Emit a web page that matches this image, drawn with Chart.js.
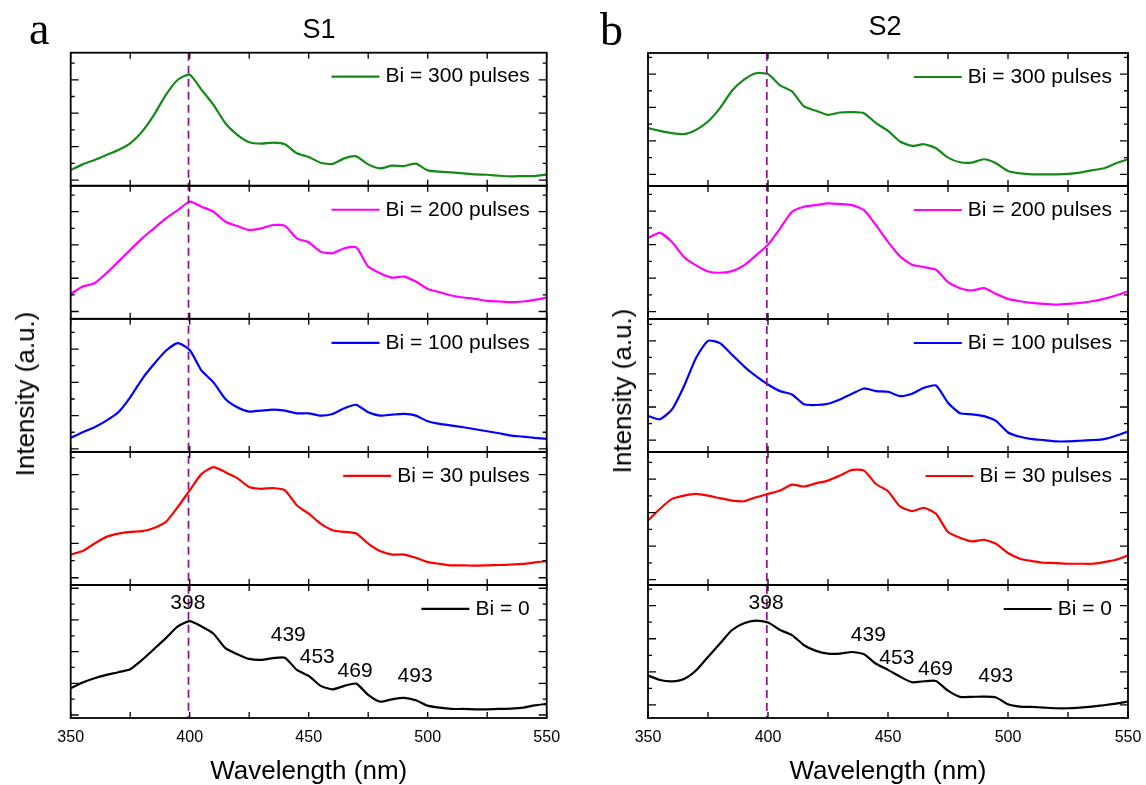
<!DOCTYPE html>
<html>
<head>
<meta charset="utf-8">
<script src="https://cdn.jsdelivr.net/npm/chart.js@4.4.1/dist/chart.umd.min.js"></script>
<style>
body{margin:0;background:#fff}
#fig{position:relative;width:1146px;height:785px;overflow:hidden;font-family:"Liberation Sans",Arial,sans-serif;color:#000;background:#fff}
canvas{position:absolute;top:0}
.t{position:absolute;white-space:nowrap;line-height:1;transform:translate(-50%,-50%)}
.letter{position:absolute;font-family:"Liberation Serif","Times New Roman",serif;font-size:46px;line-height:1}
.ylab{position:absolute;white-space:nowrap;line-height:1;font-size:26px;transform:translate(-50%,-50%) rotate(-90deg)}
</style>
</head>
<body>
<div id="fig">
  <canvas id="chartS1" width="573" height="785" style="left:0"></canvas>
  <canvas id="chartS2" width="573" height="785" style="left:573px"></canvas>
  <div class="letter" style="left:29px;top:6px">a</div>
  <div class="letter" style="left:600px;top:7px">b</div>
  <div class="t" style="left:319px;top:29px;font-size:27px">S1</div>
  <div class="t" style="left:885px;top:26px;font-size:27px">S2</div>
  <div class="ylab" style="left:25px;top:394px">Intensity (a.u.)</div>
  <div class="ylab" style="left:622px;top:391px">Intensity (a.u.)</div>
</div>
<script>
// wavelength grid (nm)
const wavelength = [350,355,360,365,370,375,380,385,390,395,400,405,410,415,420,425,430,435,440,445,
  450,455,460,465,470,475,480,485,490,495,500,505,510,515,520,525,530,535,540,545,550];

const labels = ['Bi = 300 pulses','Bi = 200 pulses','Bi = 100 pulses','Bi = 30 pulses','Bi = 0'];
const colors = ['#14891a','#ff00ff','#0000ff','#ff0000','#000000'];

// S1 spectra, top panel to bottom panel (arb. units, each panel its own scale)
const s1Bi300 = [0.6,0.94,1.2,1.5,1.8,2.2,2.9,3.9,5.1,6.0,6.3,5.4,4.5,3.4,2.7,2.26,2.18,2.24,2.14,1.6,
  1.38,1.04,0.96,1.3,1.42,0.94,0.7,0.86,0.84,0.98,0.58,0.5,0.46,0.4,0.34,0.32,0.26,0.22,0.24,0.24,0.34];
const s1Bi200 = [1.04,1.5,1.7,2.3,3.0,3.7,4.4,5.0,5.6,6.1,6.6,6.3,6.0,5.4,5.14,4.9,5.0,5.2,5.15,4.4,
  4.16,3.6,3.5,3.8,3.85,2.7,2.3,2.04,2.1,1.8,1.36,1.16,0.96,0.84,0.76,0.64,0.6,0.56,0.6,0.7,0.84];
const s1Bi100 = [0.66,1.0,1.3,1.7,2.2,3.1,4.2,5.1,5.9,6.36,5.95,4.7,4.0,3.0,2.5,2.24,2.3,2.36,2.3,2.14,
  2.14,2.0,2.1,2.44,2.65,2.2,2.0,2.06,2.1,2.0,1.66,1.5,1.4,1.3,1.18,1.06,0.94,0.8,0.74,0.66,0.6];
const s1Bi30 = [1.35,1.55,1.99,2.38,2.57,2.67,2.71,2.9,3.25,4.12,5.09,6.05,6.44,6.15,5.8,5.28,5.18,5.22,5.09,4.22,
  3.73,3.15,2.77,2.67,2.57,1.99,1.55,1.35,1.35,1.16,0.91,0.81,0.72,0.72,0.7,0.72,0.74,0.77,0.81,0.89,0.97];
const s1Bi0 = [1.69,2.05,2.32,2.53,2.7,2.89,3.48,4.16,4.85,5.59,5.93,5.59,5.13,4.22,3.84,3.54,3.48,3.59,3.62,2.85,
  2.47,1.84,1.62,1.84,1.98,1.27,0.84,0.99,1.08,0.93,0.59,0.46,0.38,0.38,0.36,0.36,0.38,0.4,0.46,0.61,0.7];

// S2 spectra
const s2Bi300 = [2.76,2.6,2.46,2.4,2.66,3.16,3.96,5.0,5.66,6.05,6.0,5.32,4.96,4.06,3.8,3.56,3.7,3.72,3.66,3.06,
  2.6,1.96,1.7,1.8,1.56,1.0,0.72,0.7,0.9,0.66,0.2,0.06,0,0,0,0.02,0.1,0.24,0.36,0.66,0.9];
const s2Bi200 = [4.4,4.7,4.16,3.26,2.76,2.4,2.32,2.42,2.76,3.36,4.0,4.96,5.96,6.26,6.36,6.46,6.42,6.36,6.06,5.16,
  4.16,3.3,2.8,2.66,2.5,1.76,1.4,1.26,1.4,1.06,0.76,0.62,0.52,0.46,0.42,0.46,0.52,0.62,0.76,0.96,1.22];
const s2Bi100 = [1.46,1.26,1.86,3.26,4.96,6.0,5.86,5.16,4.46,3.86,3.36,2.96,2.76,2.16,2.12,2.2,2.46,2.8,3.12,2.96,
  2.92,2.66,2.8,3.16,3.3,2.26,1.62,1.56,1.45,1.16,0.46,0.2,0.06,0,-0.08,-0.08,-0.04,0,0.06,0.26,0.52];
const s2Bi30 = [3.53,4.23,4.82,5.02,5.12,5.02,4.86,4.72,4.68,4.92,5.12,5.32,5.67,5.56,5.75,5.91,6.21,6.55,6.51,5.71,
  5.28,4.37,4.09,4.29,3.93,2.84,2.5,2.28,2.38,2.14,1.59,1.25,1.11,1.01,0.99,0.95,0.95,0.95,1.05,1.19,1.45];
const s2Bi0 = [1.78,1.51,1.43,1.57,2.08,2.9,3.71,4.53,4.94,5.1,4.98,4.53,4.22,3.61,3.27,3.1,3.1,3.2,3.06,2.49,
  2.12,1.71,1.37,1.43,1.45,0.86,0.49,0.49,0.5,0.45,0.04,-0.1,-0.12,-0.16,-0.2,-0.2,-0.16,-0.1,-0.02,0.08,0.2];

// y range of every panel, top to bottom
const s1Ranges = [[-0.34,7.62],[-0.44,7.56],[-0.18,7.82],[-0.42,7.33],[-0.19,8.21]];
const s2Ranges = [[-0.7,7.26],[-0.44,7.5],[-0.72,7.32],[-0.32,7.62],[-0.79,7.25]];

const xLabelTicks = [350,400,450,500,550];
const xTickMarks = [350,375,400,425,450,475,500,525,550];
const markerNm = 399.5;

// peak labels on the Bi = 0 panels
const peakText = ['398','439','453','469','493'];
const s1PeakX = [399.2,441.4,453.6,469.5,494.7];
const s1PeakY = [7.07,5.06,3.65,2.74,2.47];
const s2PeakX = [399.2,441.8,453.7,469.8,494.9];
const s2PeakY = [6.15,4.21,2.85,2.18,1.71];

Chart.defaults.font.family = '"Liberation Sans", Arial, sans-serif';
Chart.defaults.color = '#000';

// boxes, inward ticks, legends, marker line and peak labels
const panelsPlugin = {
  id: 'panels',
  afterDatasetsDraw(chart, args, opts) {
    const {ctx, chartArea: area, scales} = chart;
    const xs = scales.x;
    ctx.save();

    const mx = xs.getPixelForValue(opts.marker);
    ctx.strokeStyle = '#8b1a8b';
    ctx.lineWidth = 1.8;
    ctx.setLineDash([8,5]);
    ctx.beginPath();
    ctx.moveTo(mx, area.top);
    ctx.lineTo(mx, area.bottom);
    ctx.stroke();
    ctx.setLineDash([]);

    chart.data.datasets.forEach(ds => {
      const ys = scales[ds.yAxisID];
      ctx.strokeStyle = '#000';
      ctx.lineWidth = 1.3;
      ctx.beginPath();
      for (let v = Math.ceil(ys.min); v <= ys.max; v++) {
        const py = ys.getPixelForValue(v);
        const len = v % 2 === 0 ? 8 : 4;
        ctx.moveTo(area.left, py); ctx.lineTo(area.left + len, py);
        ctx.moveTo(area.right, py); ctx.lineTo(area.right - len, py);
      }
      xTickMarks.forEach(w => {
        const px = xs.getPixelForValue(w);
        ctx.moveTo(px, ys.top); ctx.lineTo(px, ys.top + 6);
        ctx.moveTo(px, ys.bottom); ctx.lineTo(px, ys.bottom - 6);
      });
      ctx.stroke();
      ctx.lineWidth = 1.8;
      ctx.strokeRect(area.left, ys.top, area.right - area.left, ys.bottom - ys.top);

      // legend
      ctx.font = '21px "Liberation Sans", Arial, sans-serif';
      ctx.textBaseline = 'middle';
      ctx.textAlign = 'right';
      const tx = area.right - opts.legendGap, ty = ys.top + 24;
      ctx.fillStyle = '#000';
      ctx.fillText(ds.label, tx, ty);
      const tw = ctx.measureText(ds.label).width;
      ctx.strokeStyle = ds.borderColor;
      ctx.lineWidth = 2.2;
      ctx.beginPath();
      ctx.moveTo(tx - tw - 6, ty);
      ctx.lineTo(tx - tw - 54, ty);
      ctx.stroke();
    });

    const yb = scales['y' + (chart.data.datasets.length - 1)];
    ctx.textAlign = 'center';
    ctx.fillStyle = '#000';
    opts.peaks.text.forEach((t, i) => {
      ctx.fillText(t, xs.getPixelForValue(opts.peaks.x[i]), yb.getPixelForValue(opts.peaks.y[i]));
    });
    ctx.restore();
  }
};

function makeChart(id, series, ranges, peaks, pad, legendGap) {
  const scales = {
    x: {
      type: 'linear', position: 'bottom', min: 350, max: 550,
      afterBuildTicks: s => { s.ticks = xLabelTicks.map(v => ({value: v})); },
      // keep the end labels from squeezing the plot area sideways
      afterFit: s => { s.paddingLeft = 0; s.paddingRight = 0; },
      ticks: {font: {size: 16}, padding: 10.4, maxRotation: 0},
      grid: {display: false, drawTicks: false},
      border: {display: false},
      title: {display: true, text: 'Wavelength (nm)', font: {size: 26, lineHeight: 1}, padding: {top: 1, bottom: 0}}
    }
  };
  // left-hand stacks are laid out in reverse, so the bottom panel goes in first
  for (let i = series.length - 1; i >= 0; i--) {
    scales['y' + i] = {
      type: 'linear', position: 'left', stack: 'panels', stackWeight: 1,
      min: ranges[i][0], max: ranges[i][1],
      ticks: {display: false},
      grid: {display: false, drawTicks: false},
      border: {display: false}
    };
  }
  const datasets = series.map((vals, i) => ({
    label: labels[i],
    data: wavelength.map((w, j) => ({x: w, y: vals[j]})),
    yAxisID: 'y' + i,
    borderColor: colors[i],
    borderWidth: 2.2,
    pointRadius: 0,
    tension: 0.2,
    fill: false
  }));
  return new Chart(document.getElementById(id), {
    type: 'line',
    data: {datasets},
    options: {
      responsive: false,
      animation: false,
      devicePixelRatio: 1,
      layout: {padding: pad},
      plugins: {
        legend: {display: false},
        tooltip: {enabled: false},
        panels: {marker: markerNm, peaks, legendGap}
      },
      scales
    },
    plugins: [panelsPlugin]
  });
}

makeChart('chartS1', [s1Bi300, s1Bi200, s1Bi100, s1Bi30, s1Bi0], s1Ranges,
  {text: peakText, x: s1PeakX, y: s1PeakY},
  {left: 70.7, right: 26.3, top: 52.7, bottom: 0}, 17);
makeChart('chartS2', [s2Bi300, s2Bi200, s2Bi100, s2Bi30, s2Bi0], s2Ranges,
  {text: peakText, x: s2PeakX, y: s2PeakY},
  {left: 75, right: 18, top: 53, bottom: 0}, 16);
</script>
</body>
</html>
